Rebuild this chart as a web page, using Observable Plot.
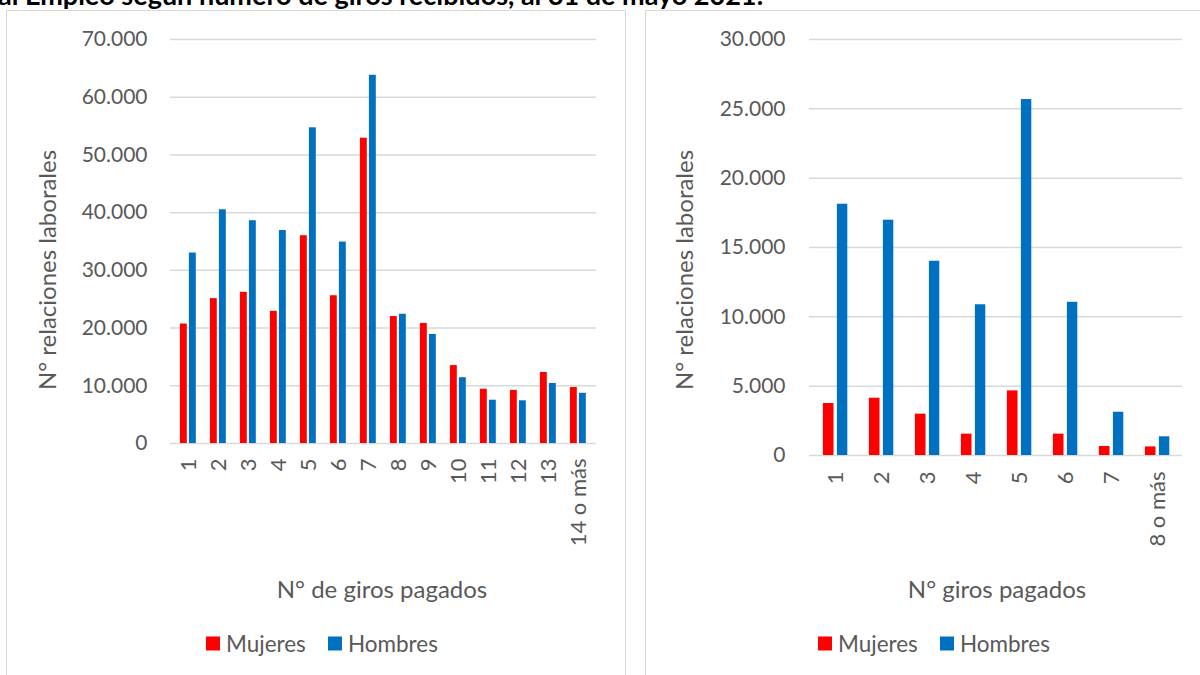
<!DOCTYPE html>
<html>
<head>
<meta charset="utf-8">
<script src="https://cdn.jsdelivr.net/npm/d3@7"></script>
<script src="https://cdn.jsdelivr.net/npm/@observablehq/plot@0.6"></script>
<style>
  html, body { margin: 0; padding: 0; background: #fff; width: 1200px; height: 675px; overflow: hidden; }
  body { position: relative; font-family: Lato, "Open Sans", sans-serif; color: #595959; }
  .title { position: absolute; left: -2px; top: -19px; font: bold 27px Lato, sans-serif; color: #000; white-space: nowrap; line-height: 27px; }
  .panel { position: absolute; top: 10px; height: 700px; border: 1.5px solid #d9d9d9; box-sizing: border-box; }
  .chart { position: absolute; top: 0; }
  .ylab { position: absolute; font-size: 24px; white-space: nowrap; transform: translate(-50%, -50%) rotate(-90deg); }
  .xlab { position: absolute; font-size: 24px; white-space: nowrap; transform: translate(-50%, -50%); }
  .legend { position: absolute; font-size: 22.5px; white-space: nowrap; display: flex; align-items: center; transform: translateY(-50%); }
  .legend .sw { display: inline-block; width: 14px; height: 14px; margin-right: 6px; }
  .legend .item { display: flex; align-items: center; margin-right: 22px; }
</style>
</head>
<body>
<div class="title">al Empleo según número de giros recibidos, al 31 de mayo 2021:</div>
<div class="panel" style="left:6px; width:620px;"></div>
<div class="panel" style="left:645px; width:600px;"></div>
<div id="left" class="chart" style="left:0px;"></div>
<div id="right" class="chart" style="left:630px;"></div>
<div class="ylab" style="left:46px; top:270px;">N° relaciones laborales</div>
<div class="ylab" style="left:683px; top:270px;">N° relaciones laborales</div>
<div class="xlab" style="left:382px; top:588px;">N° de giros pagados</div>
<div class="xlab" style="left:997px; top:588px;">N° giros pagados</div>
<div class="legend" style="left:206px; top:643px;"><span class="item"><span class="sw" style="background:#ff0000"></span>Mujeres</span><span class="item"><span class="sw" style="background:#0070c0"></span>Hombres</span></div>
<div class="legend" style="left:818px; top:643px;"><span class="item"><span class="sw" style="background:#ff0000"></span>Mujeres</span><span class="item"><span class="sw" style="background:#0070c0"></span>Hombres</span></div>
<script>
// Left chart data
const catsA = ["1","2","3","4","5","6","7","8","9","10","11","12","13","14 o más"];
const mujeresA = [20700, 25100, 26200, 22900, 36000, 25600, 52900, 22000, 20800, 13500, 9400, 9200, 12300, 9700];
const hombresA = [33000, 40500, 38600, 36900, 54700, 34900, 63800, 22400, 18900, 11400, 7500, 7400, 10400, 8700];
const ticksA = [0, 10000, 20000, 30000, 40000, 50000, 60000, 70000];

// Right chart data
const catsB = ["1","2","3","4","5","6","7","8 o más"];
const mujeresB = [3750, 4130, 2980, 1540, 4660, 1540, 650, 620];
const hombresB = [18120, 16970, 14010, 10870, 25670, 11050, 3120, 1350];
const ticksB = [0, 5000, 10000, 15000, 20000, 25000, 30000];

const loc = d3.formatLocale({decimal: ",", thousands: ".", grouping: [3], currency: ["$", ""]});
const fmt = loc.format(",d");

function chart({cats, muj, hom, ticks, max, width, height, mL, mR, mT, mB, tickPad, xPad, insM, insH}) {
  const rows = cats.map((c, i) => ({cat: c, m: muj[i], h: hom[i]}));
  return Plot.plot({
    width, height,
    marginLeft: mL, marginRight: mR, marginTop: mT, marginBottom: mB,
    style: {fontFamily: "Lato, sans-serif", fontSize: "21px", color: "#595959", background: "transparent"},
    x: {domain: cats, padding: 0, label: null},
    y: {domain: [0, max], label: null},
    marks: [
      Plot.ruleY(ticks, {stroke: "#d9d9d9", strokeWidth: 1.5}),
      Plot.barY(rows, {x: "cat", y: "m", fill: "#ff0000", insetLeft: insM[0], insetRight: insM[1]}),
      Plot.barY(rows, {x: "cat", y: "h", fill: "#0070c0", insetLeft: insH[0], insetRight: insH[1]}),
      Plot.axisY({ticks, tickFormat: fmt, tickSize: 0, tickPadding: tickPad, label: null, fontSize: 21}),
      Plot.axisX({tickSize: 0, tickPadding: xPad, tickRotate: -90, label: null, fontSize: 22})
    ]
  });
}

document.getElementById("left").append(chart({
  cats: catsA, muj: mujeresA, hom: hombresA, ticks: ticksA, max: 70000,
  width: 630, height: 610, mL: 170, mR: 34, mT: 39, mB: 167,
  tickPad: 23, xPad: 15, insM: [6.9, 16.2], insH: [15.9, 7.2]
}));

document.getElementById("right").append(chart({
  cats: catsB, muj: mujeresB, hom: hombresB, ticks: ticksB, max: 30000,
  width: 570, height: 620, mL: 179, mR: 18, mT: 39, mB: 165,
  tickPad: 24, xPad: 16, insM: [10.9, 24.5], insH: [24.9, 10.7]
}));
</script>
</body>
</html>
